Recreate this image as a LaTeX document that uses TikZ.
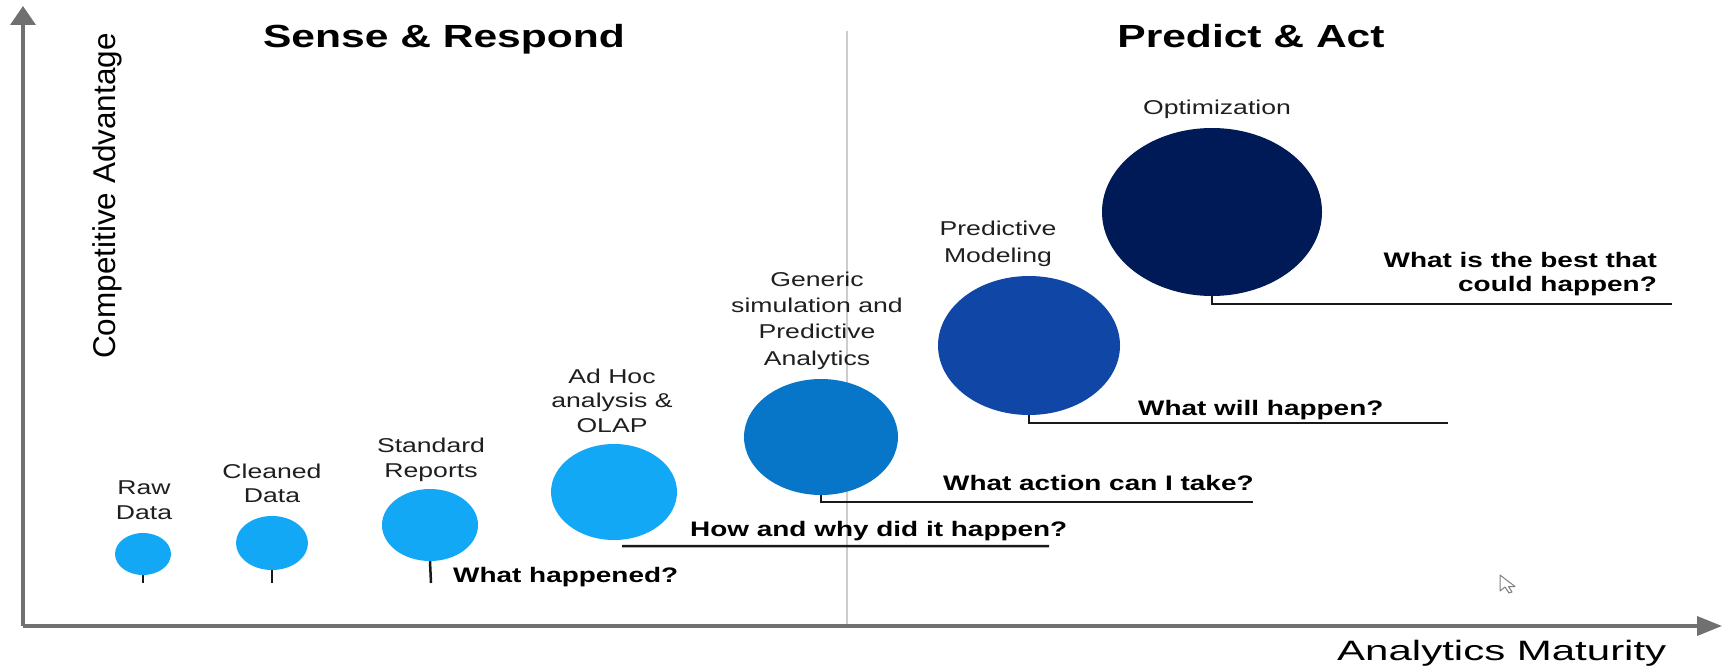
\documentclass[tikz,border=0pt]{standalone}
\usepackage{fontspec}
\setmainfont{Liberation Sans}
\newfontfamily\widefont[FakeStretch=1.33]{Liberation Sans}
\newfontfamily\widerfont[FakeStretch=1.5]{Liberation Sans}
\usetikzlibrary{shapes.geometric,arrows.meta}
\definecolor{lightb}{RGB}{18,168,245}
\definecolor{midb}{RGB}{8,118,200}
\definecolor{deepb}{RGB}{16,70,166}
\definecolor{navyb}{RGB}{0,26,87}
\definecolor{axisg}{RGB}{112,112,112}
\definecolor{divg}{RGB}{205,205,205}
\begin{document}
\begin{tikzpicture}[x=1pt,y=-1pt,
  bubble/.style={ellipse, inner sep=0pt, draw=none},
  lbl/.style={font=\widefont\fontsize{20}{25}\selectfont, align=center, anchor=north, inner sep=0pt, text=black!88},
  qst/.style={font=\widefont\bfseries\fontsize{21}{24}\selectfont, inner sep=0pt, anchor=base west},
  hdr/.style={font=\widefont\bfseries\fontsize{32}{38}\selectfont, inner sep=0pt, anchor=base},
  conn/.style={line width=2.5pt, black!90},
  axisline/.style={line width=3.5pt, axisg}
]
\useasboundingbox (0,0) rectangle (1729,671);

% axes
\coordinate (origin) at (23,626);
\coordinate (ytip) at (23,6);
\coordinate (xtip) at (1722,626);
\coordinate (divtop) at (847,31);
\coordinate (divbot) at (847,626);
\draw[divg, line width=2pt] (divtop) -- (divbot);
\draw[axisline, -{Triangle[length=19pt,width=25pt]}] (origin) -- (ytip);
\draw[axisline, -{Triangle[length=25pt,width=19pt]}] (origin) -- (xtip);

% headers
\node[hdr] (sr) at (444,48) {Sense \& Respond};
\node[hdr] (pa) at (1251,48) {Predict \& Act};

% axis labels
\node[font=\fontsize{31.5}{36}\selectfont, rotate=90, anchor=base, inner sep=0pt] (ylab) at (115,196) {Competitive Advantage};
\node[font=\widerfont\fontsize{28}{32}\selectfont, anchor=base west, inner sep=0pt] (xlab) at (1337,660) {Analytics Maturity};

% bubbles
\node[bubble, fill=lightb, minimum width=56pt, minimum height=42pt] (raw) at (143,554) {};
\node[bubble, fill=lightb, minimum width=72pt, minimum height=54pt] (clean) at (272,543) {};
\node[bubble, fill=lightb, minimum width=96pt, minimum height=72pt] (std) at (430,525) {};
\node[bubble, fill=lightb, minimum width=126pt, minimum height=96pt] (adhoc) at (614,492) {};
\node[bubble, fill=midb, minimum width=154pt, minimum height=116pt] (gen) at (821,437) {};
\node[bubble, fill=deepb, minimum width=182pt, minimum height=139pt] (pred) at (1029,345.5) {};
\node[bubble, fill=navyb, minimum width=220pt, minimum height=168pt] (opt) at (1212,212) {};

% labels
\node[lbl] (rawl) at (144,480.7) {Raw\\Data};
\node[lbl, font=\widefont\fontsize{20}{24}\selectfont] (cleanl) at (272,463.7) {Cleaned\\Data};
\node[lbl] (stdl) at (431,437.7) {Standard\\Reports};
\node[lbl, font=\widefont\fontsize{20}{24.5}\selectfont] (adhocl) at (612,368.7) {Ad Hoc\\analysis \&\\OLAP};
\node[lbl, font=\widefont\fontsize{20}{26.3}\selectfont] (genl) at (817,271.7) {Generic\\simulation and\\Predictive\\Analytics};
\node[lbl, font=\widefont\fontsize{20}{27}\selectfont] (predl) at (998,220.7) {Predictive\\Modeling};
\node[lbl, anchor=base] (optl) at (1217,115) {Optimization};

% questions
\node[qst] (q1) at (453,582) {What happened?};
\node[qst] (q2) at (690,536) {How and why did it happen?};
\node[qst] (q3) at (943,490) {What action can I take?};
\node[qst] (q4) at (1138,415) {What will happen?};
\node[qst, anchor=north east, align=right] (q5) at (1657,252) {What is the best that\\could happen?};

% connectors
\coordinate (rawend) at (143,583);
\coordinate (cleanend) at (272,583);
\coordinate (stdend) at (431,583);
\coordinate (adhocend) at (1049,546);
\coordinate (genend) at (1253,502);
\coordinate (predend) at (1448,423);
\coordinate (optend) at (1672,304);
\draw[conn] (raw.south) -- (rawend);
\draw[conn] (clean.south) -- (cleanend);
\draw[conn] (std.south) -- (stdend);
\draw[conn] ([shift={(8,6)}]adhoc.south) -- (adhocend);
\draw[conn] (gen.south) |- (genend);
\draw[conn] (pred.south) |- (predend);
\draw[conn] (opt.south) |- (optend);

% mouse pointer
\draw[gray, line width=1pt, fill=white, line join=round]
  (1500,575) -- (1500,591) -- (1505,587) -- (1509,593) -- (1512,592) -- (1508.5,586.5) -- (1515,586.5) -- cycle;
\end{tikzpicture}
\end{document}
